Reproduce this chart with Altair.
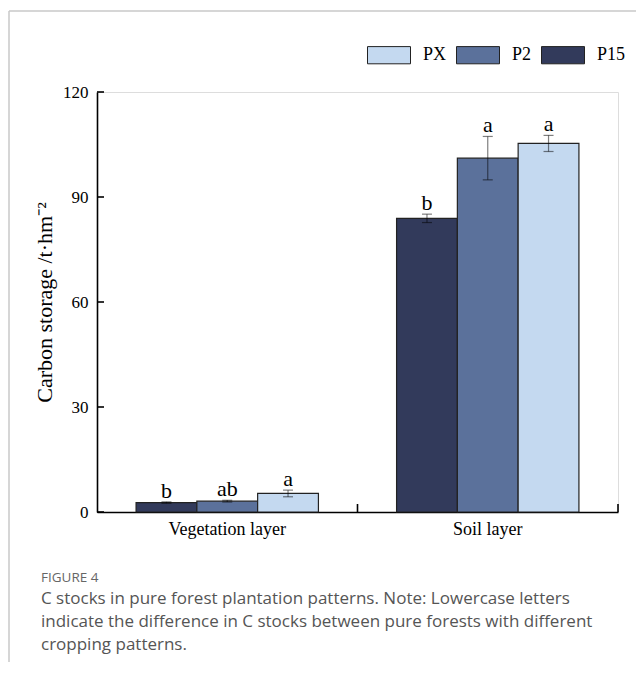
import altair as alt
import pandas as pd

# ---- data ----
layers = ["Vegetation layer", "Soil layer"]
treatments = ["P15", "P2", "PX"]          # order of bars inside each group
legend_order = ["PX", "P2", "P15"]        # order in the legend
legend_colors = ["#c4d9f0", "#5b719b", "#323a5b"]

veg_values = [2.7, 3.1, 5.3]
veg_errors = [0.2, 0.25, 0.95]
veg_letters = ["b", "ab", "a"]

soil_values = [83.9, 101.1, 105.3]
soil_errors = [1.2, 6.2, 2.3]
soil_letters = ["b", "a", "a"]

y_ticks = [0, 30, 60, 90, 120]

caption_head = "FIGURE 4"
caption_lines = [
    "C stocks in pure forest plantation patterns. Note: Lowercase letters",
    "indicate the difference in C stocks between pure forests with different",
    "cropping patterns.",
]

rows = []
for layer, vals, errs, lets in [
    (layers[0], veg_values, veg_errors, veg_letters),
    (layers[1], soil_values, soil_errors, soil_letters),
]:
    for t, v, e, l in zip(treatments, vals, errs, lets):
        rows.append({"layer": layer, "treatment": t, "value": v,
                     "lo": v - e, "hi": v + e, "letter": l})
df = pd.DataFrame(rows)

SERIF = "Liberation Serif"
W, H = 521, 420

x_enc = alt.X("layer:N", sort=layers,
              scale=alt.Scale(paddingInner=0.3, paddingOuter=0.15),
              axis=alt.Axis(title=None, labelAngle=0, ticks=False,
                            domainColor="#000", domainWidth=1.6,
                            labelFont=SERIF, labelFontSize=18, labelColor="#000",
                            labelPadding=8))
xo_enc = alt.XOffset("treatment:N", sort=treatments,
                     scale=alt.Scale(paddingInner=0, paddingOuter=0))
y_axis = alt.Axis(values=y_ticks, title="Carbon storage /t·hm⁻²", ticks=False,
                  grid=False, domainColor="#000", domainWidth=1.6,
                  labelFont=SERIF, labelFontSize=17, labelColor="#000",
                  labelPadding=9, titleFont=SERIF, titleFontSize=22,
                  titleFontWeight="normal", titleColor="#000", titlePadding=6)
y_scale = alt.Scale(domain=[0, 120], nice=False)

base = alt.Chart(df)

bars = base.mark_bar(stroke="#222", strokeWidth=1.2).encode(
    x=x_enc,
    xOffset=xo_enc,
    y=alt.Y("value:Q", scale=y_scale, axis=y_axis),
    color=alt.Color("treatment:N",
                    scale=alt.Scale(domain=legend_order, range=legend_colors),
                    legend=alt.Legend(orient="none", legendX=270, legendY=-59,
                                      direction="horizontal", title=None,
                                      symbolType="M-1,-0.4L1,-0.4L1,0.4L-1,0.4Z",
                                      symbolSize=1849, symbolStrokeColor="#222",
                                      symbolStrokeWidth=1, symbolOpacity=1,
                                      labelFont=SERIF, labelFontSize=18,
                                      labelColor="#000", labelOffset=12,
                                      columnPadding=7)),
)

err = base.mark_rule(color="#000", opacity=0.5, strokeWidth=1.2).encode(
    x=alt.X("layer:N", sort=layers),
    xOffset=alt.XOffset("treatment:N", sort=treatments),
    y=alt.Y("lo:Q"),
    y2="hi:Q",
)

caps = base.transform_fold(["lo", "hi"], as_=["end", "cap"]).mark_tick(
    color="#000", opacity=0.5, thickness=1.2, size=10
).encode(
    x=alt.X("layer:N", sort=layers),
    xOffset=alt.XOffset("treatment:N", sort=treatments),
    y=alt.Y("cap:Q"),
)

letters = base.mark_text(font=SERIF, fontSize=22, color="#000", dy=-4,
                         baseline="alphabetic").encode(
    x=alt.X("layer:N", sort=layers),
    xOffset=alt.XOffset("treatment:N", sort=treatments),
    y=alt.Y("hi:Q"),
    text="letter:N",
)

# inward-pointing axis ticks
ytick_df = pd.DataFrame({"value": y_ticks})
yticks = alt.Chart(ytick_df).mark_rule(color="#000", strokeWidth=1.6).encode(
    y=alt.Y("value:Q"),
    x=alt.value(0), x2=alt.value(7),
)
one = alt.Data(values=[{}])
xtick_mid = alt.Chart(one).mark_rule(color="#000", strokeWidth=1.6).encode(
    x=alt.value(W / 2), y=alt.value(H), y2=alt.value(H - 8),
)
xtick_end = alt.Chart(one).mark_rule(color="#000", strokeWidth=1.6).encode(
    x=alt.value(W), y=alt.value(H), y2=alt.value(H - 8),
)

frame_top = alt.Chart(one).mark_rule(color="#c8c8c8", strokeWidth=1.5).encode(
    x=alt.value(-88), x2=alt.value(W + 30), y=alt.value(-81))
frame_left = alt.Chart(one).mark_rule(color="#c8c8c8", strokeWidth=1.5).encode(
    x=alt.value(-88), y=alt.value(-81), y2=alt.value(H + 160))

cap_head = alt.Chart(one).mark_text(font="Open Sans", fontSize=13.5, color="#666",
                                    align="left", baseline="alphabetic").encode(
    x=alt.value(-56), y=alt.value(490), text=alt.value(caption_head))
cap_body = alt.Chart(one).mark_text(font="Open Sans", fontSize=17, color="#555",
                                    align="left", baseline="alphabetic",
                                    lineHeight=23).encode(
    x=alt.value(-56), y=alt.value(512), text=alt.value(caption_lines))

chart = alt.layer(
    frame_top, frame_left, bars, err, caps, letters, yticks, xtick_mid, xtick_end,
    cap_head, cap_body,
).properties(
    width=W, height=H,
    autosize=alt.AutoSizeParams(type="none"),
    padding={"left": 89, "top": 84, "right": 18, "bottom": 150},
).configure_view(stroke=None).configure(background="#ffffff")

chart.save("out.html", embed_options={"renderer": "svg", "actions": False})
